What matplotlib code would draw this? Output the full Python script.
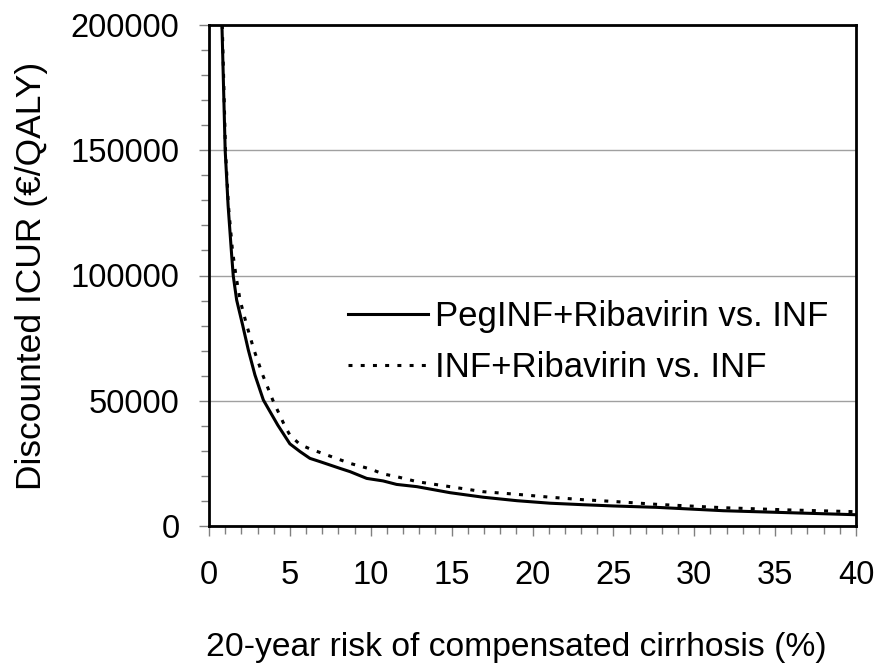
import matplotlib
matplotlib.use("Agg")
import matplotlib.pyplot as plt
from matplotlib.ticker import MultipleLocator

plt.rcParams['font.family'] = ['Liberation Sans', 'DejaVu Sans']

# Data
peg_x = [0.80, 1.00, 1.18, 1.40, 1.50, 1.71, 2.08, 2.43, 2.84, 3.36, 4.25, 5.00,
         5.63, 6.24, 6.86, 8.10, 8.72, 9.75, 10.76, 11.6, 12.86, 14.9, 16.94,
         19.04, 21.08, 23.12, 25.0, 27.67, 31.8, 35.9, 40.0]
peg_y = [200000, 150000, 128000, 108200, 99800, 90200, 80200, 70300, 60300, 50300,
         40300, 32800, 29700, 27000, 25700, 23000, 21700, 19000, 18000, 16600,
         15700, 13300, 11500, 10100, 9100, 8500, 8000, 7450, 6100, 5300, 4500]

inf_x = [0.82, 1.02, 1.20, 1.45, 1.67, 1.92, 2.33, 2.78, 3.32, 3.94, 4.66, 5.00,
         5.63, 6.24, 7.48, 8.72, 9.95, 10.76, 11.6, 12.86, 14.9, 16.94, 19.04,
         21.08, 23.12, 25.0, 27.67, 31.8, 35.9, 40.0]
inf_y = [200000, 150000, 128000, 110000, 99800, 90200, 80200, 70300, 60300, 50300,
         40300, 36300, 32500, 30800, 27900, 25000, 22800, 20800, 19700, 17700,
         15700, 13700, 12650, 11500, 10500, 9800, 8650, 7300, 6400, 5700]

labels = ["PegINF+Ribavirin vs. INF", "INF+Ribavirin vs. INF"]

fig = plt.figure(figsize=(8.75, 6.64), dpi=100)
ax = fig.add_axes([209/875, 1-526/664, (856-209)/875, (526-25)/664])

ax.plot(peg_x, peg_y, color='black', lw=2.2, label=labels[0],
        solid_joinstyle='round')
ax.plot(inf_x, inf_y, color='black', lw=2.2, linestyle=(0, (1.3, 2.7)),
        label=labels[1])

ax.set_xlim(0, 40)
ax.set_ylim(0, 200000)
ax.xaxis.set_major_locator(MultipleLocator(5))
ax.xaxis.set_minor_locator(MultipleLocator(1))
ax.yaxis.set_major_locator(MultipleLocator(50000))
ax.yaxis.set_minor_locator(MultipleLocator(10000))

ax.grid(axis='y', which='major', color='#a0a0a0', lw=1.0)
ax.set_axisbelow(True)

for s in ax.spines.values():
    s.set_linewidth(2.0)
    s.set_color('black')

ax.tick_params(axis='both', which='major', direction='out', length=7.2, width=1.0,
               color='#808080', labelsize=23.5)
ax.tick_params(axis='x', which='major', pad=17)
ax.tick_params(axis='y', which='major', pad=14)
ax.tick_params(axis='both', which='minor', direction='out', length=5.5, width=1.0,
               color='#808080')

ax.set_xlabel("20-year risk of compensated cirrhosis (%)", fontsize=24.2,
              labelpad=30, x=0.4745)
ax.set_ylabel("Discounted ICUR (\u20ac/QALY)", fontsize=25.5, labelpad=16.5)

leg = ax.legend(loc='upper left', bbox_to_anchor=(0.2155, 0.451), frameon=False,
                fontsize=25, handlelength=2.3, handletextpad=0.2, labelspacing=0.51,
                borderaxespad=0, borderpad=0)

fig.savefig("out.png", dpi=100)
